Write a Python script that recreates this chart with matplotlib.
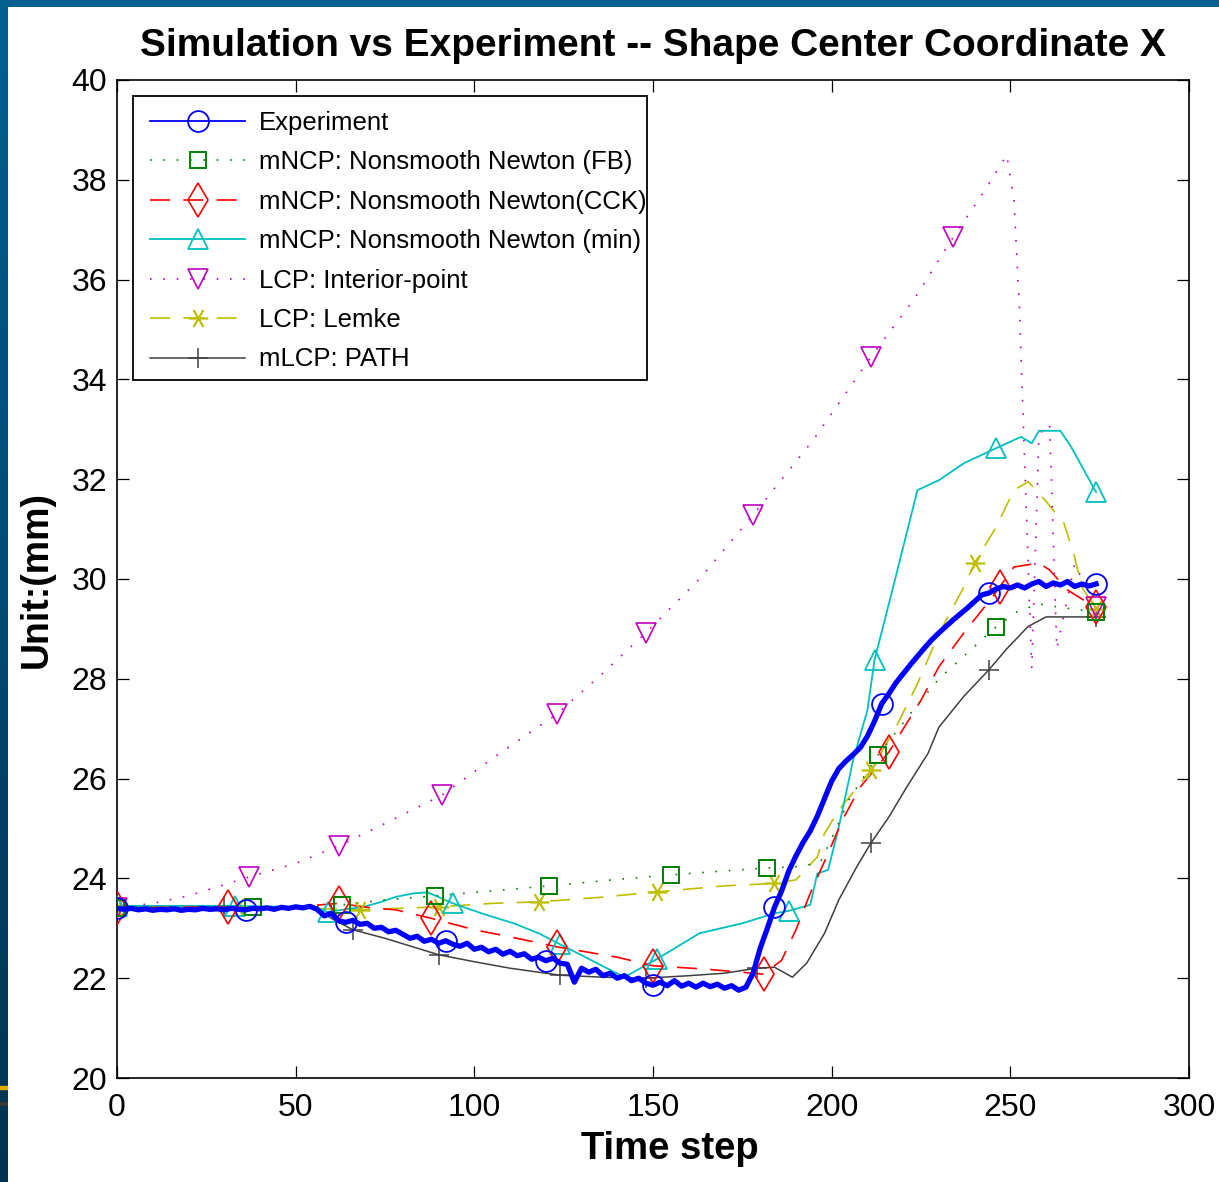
import numpy as np
import matplotlib
matplotlib.use('Agg')
import matplotlib.pyplot as plt
from matplotlib.lines import Line2D
from matplotlib.patches import Rectangle
from matplotlib.colors import LinearSegmentedColormap

plt.rcParams['font.family'] = ['Liberation Sans', 'DejaVu Sans']

# ---------------- data ----------------
title = "Simulation vs Experiment -- Shape Center Coordinate X"
xlabel = "Time step"
ylabel = "Unit:(mm)"
labels = ["Experiment", "mNCP: Nonsmooth Newton (FB)", "mNCP: Nonsmooth Newton(CCK)",
          "mNCP: Nonsmooth Newton (min)", "LCP: Interior-point", "LCP: Lemke", "mLCP: PATH"]
xticks = [0, 50, 100, 150, 200, 250, 300]
yticks = [20, 22, 24, 26, 28, 30, 32, 34, 36, 38, 40]

# Experiment (every 2 time steps)
exp_y = [23.40, 23.38, 23.40, 23.37, 23.39, 23.36, 23.38, 23.37, 23.39, 23.36,
         23.38, 23.37, 23.40, 23.38, 23.39, 23.37, 23.40, 23.38, 23.37, 23.40,
         23.39, 23.41, 23.38, 23.42, 23.40, 23.43, 23.41, 23.44, 23.38, 23.25,
         23.30, 23.15, 23.12, 23.16, 23.08, 23.10, 23.00, 23.02, 22.93, 22.96,
         22.88, 22.80, 22.84, 22.74, 22.78, 22.70, 22.75, 22.68, 22.64, 22.70,
         22.58, 22.62, 22.53, 22.58, 22.48, 22.54, 22.45, 22.49, 22.38, 22.42,
         22.35, 22.40, 22.30, 22.28, 21.92, 22.20, 22.12, 22.18, 22.05, 22.10,
         22.00, 22.05, 21.95, 22.00, 21.90, 21.86, 21.92, 21.85, 21.95, 21.84,
         21.90, 21.82, 21.90, 21.83, 21.88, 21.80, 21.85, 21.76, 21.82, 22.10,
         22.60, 23.00, 23.42, 23.75, 24.15, 24.45, 24.72, 24.95, 25.25, 25.60,
         25.95, 26.20, 26.35, 26.48, 26.62, 26.85, 27.15, 27.50, 27.70, 27.92,
         28.10, 28.28, 28.45, 28.62, 28.78, 28.92, 29.05, 29.18, 29.30, 29.42,
         29.55, 29.68, 29.72, 29.80, 29.85, 29.82, 29.88, 29.82, 29.90, 29.95,
         29.85, 29.92, 29.88, 29.95, 29.85, 29.90, 29.86, 29.90]
exp_x = list(range(0, 2 * len(exp_y), 2))
exp_mk = [0, 36, 64, 92, 120, 150, 184, 214, 244, 274]

fb_x = [0, 20, 38, 55, 63, 75, 89, 105, 121, 140, 155, 170, 182, 192, 197, 200, 205,
        213, 222, 230, 240, 246, 252, 258, 265, 274]
fb_y = [23.41, 23.41, 23.43, 23.43, 23.47, 23.57, 23.65, 23.75, 23.85, 23.98, 24.07,
        24.15, 24.21, 24.24, 24.35, 24.8, 25.6, 26.47, 27.3, 28.0, 28.65, 29.04,
        29.35, 29.5, 29.42, 29.34]
fb_mk = [0, 38, 63, 89, 121, 155, 182, 213, 246, 274]

cck_x = [0, 31, 50, 62, 70, 78, 88, 100, 110, 123, 140, 150, 165, 181, 186, 190,
         194, 199, 203, 208, 216, 225, 230, 237, 245, 247, 251, 258, 261, 266, 270, 274]
cck_y = [23.41, 23.43, 23.43, 23.5, 23.42, 23.37, 23.2, 22.97, 22.83, 22.63, 22.42,
         22.25, 22.18, 22.08, 22.36, 22.97, 23.7, 24.5, 25.17, 25.83, 26.53, 27.57,
         28.24, 28.92, 29.64, 29.84, 30.24, 30.32, 30.18, 29.78, 29.6, 29.44]
cck_mk = [0, 31, 62, 88, 123, 150, 181, 216, 247, 274]

min_x = [0, 33, 55, 59, 64, 69, 74, 78, 83, 87, 94, 102, 111, 118, 124, 133, 142,
         151, 163, 175, 184, 188, 194, 196, 199, 202, 206, 210, 212, 217, 224, 230,
         237, 246, 253, 256, 258, 264, 267, 272, 274]
min_y = [23.45, 23.45, 23.42, 23.33, 23.38, 23.43, 23.53, 23.63, 23.7, 23.72, 23.5,
         23.3, 23.1, 22.9, 22.68, 22.35, 22.02, 22.38, 22.9, 23.1, 23.3, 23.35, 23.47,
         24.1, 24.17, 25.03, 26.37, 27.37, 28.38, 29.78, 31.78, 31.98, 32.32, 32.62,
         32.85, 32.72, 32.97, 32.97, 32.65, 32.0, 31.74]
min_mk = [0, 33, 59, 94, 124, 151, 188, 212, 246, 274]

ip_x = [0, 10, 20, 37, 50, 62, 75, 91, 105, 123, 135, 148, 163, 178, 195, 211, 223,
        234, 243, 249, 251, 252.5, 253.6, 256, 258, 261, 263, 268, 274]
ip_y = [23.41, 23.5, 23.65, 24.03, 24.3, 24.65, 25.1, 25.67, 26.4, 27.29, 28.05,
        28.92, 30.0, 31.28, 32.8, 34.45, 35.6, 36.85, 37.8, 38.5, 37.6, 35.5, 33.2,
        28.2, 32.9, 33.1, 28.6, 30.3, 29.44]
ip_mk = [0, 37, 62, 91, 123, 148, 178, 211, 234, 274]

lk_x = [0, 34, 50, 68, 90, 105, 118, 135, 151, 170, 184, 190, 196, 198, 202, 211,
        218, 224, 230, 237, 240, 246, 251, 255, 259, 265, 268, 270, 274]
lk_y = [23.41, 23.43, 23.41, 23.37, 23.43, 23.5, 23.53, 23.62, 23.73, 23.85, 23.9,
        23.97, 24.43, 24.9, 25.37, 26.17, 27.03, 27.9, 28.9, 29.84, 30.32, 31.04,
        31.78, 31.95, 31.64, 31.12, 30.44, 29.84, 29.4]
lk_mk = [0, 34, 68, 90, 118, 151, 184, 211, 240, 274]

pt_x = [0, 30, 55, 60, 66, 75, 90, 100, 110, 124, 136, 148, 160, 170, 179, 184, 187,
        189, 193, 198, 202, 207, 211, 216, 221, 227, 230, 237, 244, 249, 255, 260, 274]
pt_y = [23.43, 23.43, 23.43, 23.2, 22.97, 22.8, 22.47, 22.33, 22.2, 22.06, 22.02,
        22.0, 22.05, 22.1, 22.2, 22.22, 22.1, 22.02, 22.3, 22.9, 23.57, 24.23, 24.71,
        25.23, 25.83, 26.51, 27.03, 27.65, 28.18, 28.6, 29.05, 29.24, 29.24]
pt_mk = [0, 30, 66, 90, 124, 148, 179, 211, 244, 274]

# ---------------- figure ----------------
W, H = 1219, 1182
fig = plt.figure(figsize=(W / 100, H / 100), dpi=100)
fig.patch.set_facecolor('white')

# slide frame (top band and left gradient band)
fig.patches.append(Rectangle((0, 1 - 7 / H), 1, 7 / H, transform=fig.transFigure,
                             facecolor='#00608f', edgecolor='none', zorder=0))
bax = fig.add_axes([0, 0, 8 / W, 1 - 7 / H])
grad = np.linspace(0, 1, 256).reshape(-1, 1)
cmap = LinearSegmentedColormap.from_list('band', ['#00608f', '#004a73', '#00324f'])
bax.imshow(grad, aspect='auto', cmap=cmap, extent=[0, 1, 0, 1])
bax.axhspan(1 - 1082 / (H - 7), 1 - 1079 / (H - 7), color='#e0a800')
bax.axhspan(1 - 1098 / (H - 7), 1 - 1095 / (H - 7), color='#3a3a3a')
bax.set_xlim(0, 1); bax.set_ylim(0, 1)
bax.axis('off')

AXW, AXH = 1072, 998
ax = fig.add_axes([117 / W, 1 - 1078 / H, AXW / W, AXH / H])

C_BLUE = (0, 0, 1)
C_GREEN = (0, 0.5, 0)
C_RED = (1, 0, 0)
C_CYAN = (0, 0.75, 0.75)
C_MAG = (0.75, 0, 0.75)
C_YEL = (0.75, 0.75, 0)
C_BLK = (0.25, 0.25, 0.25)

DOT = (0, (1, 7))
DASH = (0, (12, 8))
AST = (6, 2, 90)


def idx(xs, mk):
    return [list(xs).index(v) for v in mk]


specs = [
    (pt_x, pt_y, pt_mk, C_BLK, '-', 1.1, '+', 14, 1.1),
    (lk_x, lk_y, lk_mk, C_YEL, DASH, 1.2, AST, 14, 1.2),
    (ip_x, ip_y, ip_mk, C_MAG, DOT, 1.2, 'v', 15, 1.2),
    (min_x, min_y, min_mk, C_CYAN, '-', 1.3, '^', 15, 1.3),
    (cck_x, cck_y, cck_mk, C_RED, DASH, 1.2, 'd', 17, 1.2),
    (fb_x, fb_y, fb_mk, C_GREEN, DOT, 1.2, 's', 12, 1.4),
]
for xs, ys, mk, c, ls, lw, m, ms, mew in specs:
    ax.plot(xs, ys, color=c, linestyle=ls, linewidth=lw, zorder=2)
    ax.plot(xs, ys, linestyle='none', marker=m, markersize=ms, markevery=idx(xs, mk),
            markerfacecolor='none', markeredgecolor=c, markeredgewidth=mew, zorder=3)

ax.plot(exp_x, exp_y, color=C_BLUE, linewidth=3.8, zorder=4, solid_joinstyle='round')
ax.plot(exp_x, exp_y, linestyle='none', marker='o', markersize=15,
        markevery=idx(exp_x, exp_mk), markerfacecolor='none', markeredgecolor=C_BLUE,
        markeredgewidth=1.3, zorder=5)

ax.set_xlim(0, 300)
ax.set_ylim(20, 40)
ax.set_xticks(xticks)
ax.set_yticks(yticks)
ax.tick_params(direction='in', length=8.6, width=0.9, top=True, right=True,
               labelsize=23, colors='black')
ax.tick_params(axis='x', pad=11)
ax.tick_params(axis='y', pad=7)
for s in ax.spines.values():
    s.set_linewidth(1.2)

ax.set_title(title, fontsize=28, fontweight='bold', pad=17)
ax.set_xlabel(xlabel, fontsize=27.5, fontweight='bold')
ax.xaxis.set_label_coords(0.516, -0.053, transform=ax.transAxes)
ax.xaxis.label.set_va('top')
ax.set_ylabel(ylabel, fontsize=27, fontweight='bold', labelpad=12)

# legend proxies
handles = [
    Line2D([], [], color=C_BLUE, lw=1.3, marker='o', ms=15, mfc='none', mec=C_BLUE, mew=1.3),
    Line2D([], [], color=C_GREEN, lw=1.2, ls=DOT, marker='s', ms=12, mfc='none', mec=C_GREEN, mew=1.4),
    Line2D([], [], color=C_RED, lw=1.2, ls=DASH, marker='d', ms=17, mfc='none', mec=C_RED, mew=1.2),
    Line2D([], [], color=C_CYAN, lw=1.3, marker='^', ms=15, mfc='none', mec=C_CYAN, mew=1.3),
    Line2D([], [], color=C_MAG, lw=1.2, ls=DOT, marker='v', ms=15, mfc='none', mec=C_MAG, mew=1.2),
    Line2D([], [], color=C_YEL, lw=1.2, ls=DASH, marker=AST, ms=14, mfc='none', mec=C_YEL, mew=1.2),
    Line2D([], [], color=C_BLK, lw=1.1, marker='+', ms=14, mfc='none', mec=C_BLK, mew=1.1),
]
# legend contents (no frame), frame drawn as a separate box like MATLAB
leg = ax.legend(handles, labels, loc='upper left', bbox_to_anchor=(33 / AXW, 1 - 31 / AXH),
                borderaxespad=0, fontsize=18.5, frameon=False,
                handlelength=3.7, handletextpad=0.55, labelspacing=0.6,
                borderpad=0.0, numpoints=1)
leg.set_zorder(10)
box = Rectangle((16 / AXW, 1 - 300 / AXH), 514 / AXW, 284 / AXH, transform=ax.transAxes,
                facecolor='white', edgecolor='black', linewidth=1.3, zorder=9)
ax.add_patch(box)

fig.savefig('out.png', dpi=100, facecolor='white')
